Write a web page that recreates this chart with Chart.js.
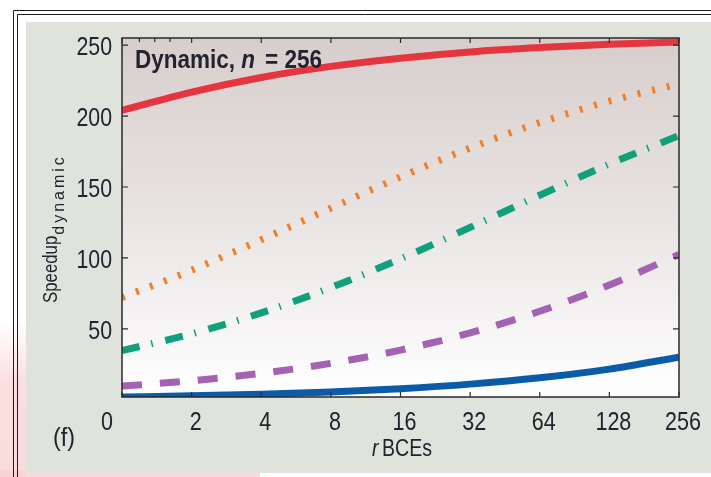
<!DOCTYPE html>
<html>
<head>
<meta charset="utf-8">
<script src="https://cdn.jsdelivr.net/npm/chart.js@4.4.1/dist/chart.umd.min.js"></script>
<style>
  html, body { margin: 0; padding: 0; background: #fff; }
  #wrap { position: relative; width: 711px; height: 477px; }
</style>
</head>
<body>
<div id="wrap"><canvas id="speedup-chart"></canvas></div>
<script>
// x is log2(r): one point per labelled r
const xSteps = [0, 1, 2, 3, 4, 5, 6, 7, 8];
const xTickLabels = ['0', '2', '4', '8', '16', '32', '64', '128', '256'];
const yTickValues = [50, 100, 150, 200, 250];
const topMinorTicks = [0.25, 0.47, 0.69];

// dynamic multicore speedup, n = 256
const speedupF999 = [204.0, 216.9, 227.2, 235.0, 240.8, 245.2, 248.3, 250.6, 252.2];
const speedupF99 = [72.1, 91.4, 112.8, 135.1, 157.1, 177.5, 195.4, 210.5, 222.6];
const speedupF975 = [34.7, 46.5, 61.3, 79.1, 99.4, 121.5, 144.2, 166.2, 186.2];
const speedupF90 = [9.66, 13.47, 18.69, 25.73, 35.07, 47.18, 62.44, 80.94, 102.4];
const speedupF50 = [1.99, 2.81, 3.97, 5.60, 7.88, 11.07, 15.52, 21.67, 30.12];

const SANS = '"Liberation Sans", Arial, sans-serif';
const INK = '#23232f';

function pts(values) {
  return xSteps.map((x, i) => ({ x: x, y: values[i] }));
}

function curve(values, color, dash) {
  return {
    data: pts(values),
    borderColor: color,
    borderWidth: 7,
    borderDash: dash,
    pointRadius: 0,
    cubicInterpolationMode: 'monotone',
    clip: 0,
  };
}

// squeezed text, to get a condensed face out of Liberation Sans
function narrowText(ctx, text, x, y, font, squeeze, align) {
  ctx.save();
  ctx.font = font;
  ctx.textAlign = 'left';
  ctx.textBaseline = 'alphabetic';
  const w = ctx.measureText(text).width * squeeze;
  let left = x;
  if (align === 'center') left = x - w / 2;
  if (align === 'right') left = x - w;
  ctx.translate(left, y);
  ctx.scale(squeeze, 1);
  ctx.fillText(text, 0, 0);
  ctx.restore();
  return w;
}

const decor = {
  id: 'decor',
  beforeDraw(chart) {
    const { ctx, chartArea: a, width, height } = chart;
    ctx.save();
    ctx.fillStyle = '#fff';
    ctx.fillRect(0, 0, width, height);
    // faint pink texture in the lower-left margin
    const pink = ctx.createLinearGradient(0, 320, 0, height);
    pink.addColorStop(0, 'rgba(248,210,210,0)');
    pink.addColorStop(0.4, 'rgba(248,210,210,0.7)');
    pink.addColorStop(1, 'rgba(248,210,210,0.8)');
    ctx.fillStyle = pink;
    ctx.fillRect(0, 320, 26, height - 320);
    ctx.fillRect(0, 470, 260, height - 470);
    // panel
    ctx.fillStyle = '#dfe3dc';
    ctx.fillRect(26, 22, width - 26, 451);
    // double rule
    ctx.strokeStyle = '#1c1c1c';
    ctx.lineWidth = 1;
    ctx.beginPath();
    ctx.moveTo(13.5, height); ctx.lineTo(13.5, 10.5); ctx.lineTo(width, 10.5);
    ctx.moveTo(17.5, height); ctx.lineTo(17.5, 14.5); ctx.lineTo(width, 14.5);
    ctx.stroke();
    // plot background
    const g = ctx.createLinearGradient(0, a.top, 0, a.bottom);
    g.addColorStop(0, '#d7cecc');
    g.addColorStop(0.5, '#e8e4e3');
    g.addColorStop(1, '#ffffff');
    ctx.fillStyle = g;
    ctx.fillRect(a.left, a.top, a.right - a.left, a.bottom - a.top);
    ctx.restore();
  },
  afterDraw(chart) {
    const { ctx, chartArea: a } = chart;
    const xs = chart.scales.x, ys = chart.scales.y;
    ctx.save();
    // box
    ctx.strokeStyle = '#2a2a2a';
    ctx.lineWidth = 1.5;
    ctx.strokeRect(a.left, a.top, a.right - a.left, a.bottom - a.top);
    // inward ticks
    ctx.lineWidth = 1.2;
    ctx.beginPath();
    xSteps.forEach(v => {
      const px = xs.getPixelForValue(v);
      ctx.moveTo(px, a.bottom); ctx.lineTo(px, a.bottom - 5);
      ctx.moveTo(px, a.top); ctx.lineTo(px, a.top + 5);
    });
    topMinorTicks.forEach(v => {
      const px = xs.getPixelForValue(v);
      ctx.moveTo(px, a.top); ctx.lineTo(px, a.top + 4);
    });
    yTickValues.forEach(v => {
      const py = ys.getPixelForValue(v);
      ctx.moveTo(a.left, py); ctx.lineTo(a.left + 6, py);
      ctx.moveTo(a.right, py); ctx.lineTo(a.right - 6, py);
    });
    ctx.stroke();

    ctx.fillStyle = INK;
    // y tick labels
    yTickValues.forEach(v => {
      narrowText(ctx, String(v), a.left - 10, ys.getPixelForValue(v) + 10, '26px ' + SANS, 0.82, 'right');
    });
    // x tick labels
    xTickLabels.forEach((t, i) => {
      const nudge = i === 0 ? -15 : 4;
      narrowText(ctx, t, xs.getPixelForValue(xSteps[i]) + nudge, 430, '25px ' + SANS, 0.86, 'center');
    });

    // x title: r BCEs
    narrowText(ctx, 'r', 372, 456, 'italic 23px ' + SANS, 0.85, 'left');
    narrowText(ctx, 'BCEs', 382, 456, '23px ' + SANS, 0.85, 'left');

    // panel tag
    narrowText(ctx, '(f)', 53, 446, '26px ' + SANS, 0.9, 'left');

    // in-plot caption
    let cx = 135;
    cx += narrowText(ctx, 'Dynamic, ', cx, 68, 'bold 25px ' + SANS, 0.9, 'left');
    cx += narrowText(ctx, 'n', cx, 68, 'bold italic 25px ' + SANS, 0.9, 'left') + 10;
    narrowText(ctx, '= 256', cx, 68, 'bold 25px ' + SANS, 0.9, 'left');

    // y title: Speedup with subscript
    ctx.translate(57, 303);
    ctx.rotate(-Math.PI / 2);
    const w = narrowText(ctx, 'Speedup', 0, 0, '21px ' + SANS, 0.8, 'left');
    ctx.font = '16px ' + SANS;
    ctx.letterSpacing = '3px';
    ctx.fillText('dynamic', w + 1, 7);
    ctx.restore();
  }
};

new Chart(document.getElementById('speedup-chart'), {
  type: 'line',
  data: {
    datasets: [
      curve(speedupF999, '#e5353e', []),
      curve(speedupF99, '#f07f2c', [3, 12]),
      curve(speedupF975, '#11a07b', [18, 12, 1.5, 13]),
      curve(speedupF90, '#a462b2', [20, 18]),
      curve(speedupF50, '#0b5ca8', []),
    ]
  },
  options: {
    responsive: true,
    maintainAspectRatio: false,
    animation: false,
    layout: {
      padding: { top: 38, right: 32, left: 0, bottom: 0 }
    },
    plugins: {
      legend: { display: false },
      tooltip: { enabled: false }
    },
    scales: {
      x: {
        type: 'linear',
        min: 0,
        max: 8,
        grid: { display: false, drawTicks: false },
        border: { display: false },
        ticks: { display: false },
        afterFit(scale) { scale.height = 80; }
      },
      y: {
        min: 2,
        max: 255,
        grid: { display: false, drawTicks: false },
        border: { display: false },
        ticks: { display: false },
        afterFit(scale) { scale.width = 122; }
      }
    }
  },
  plugins: [decor]
});
</script>
</body>
</html>
